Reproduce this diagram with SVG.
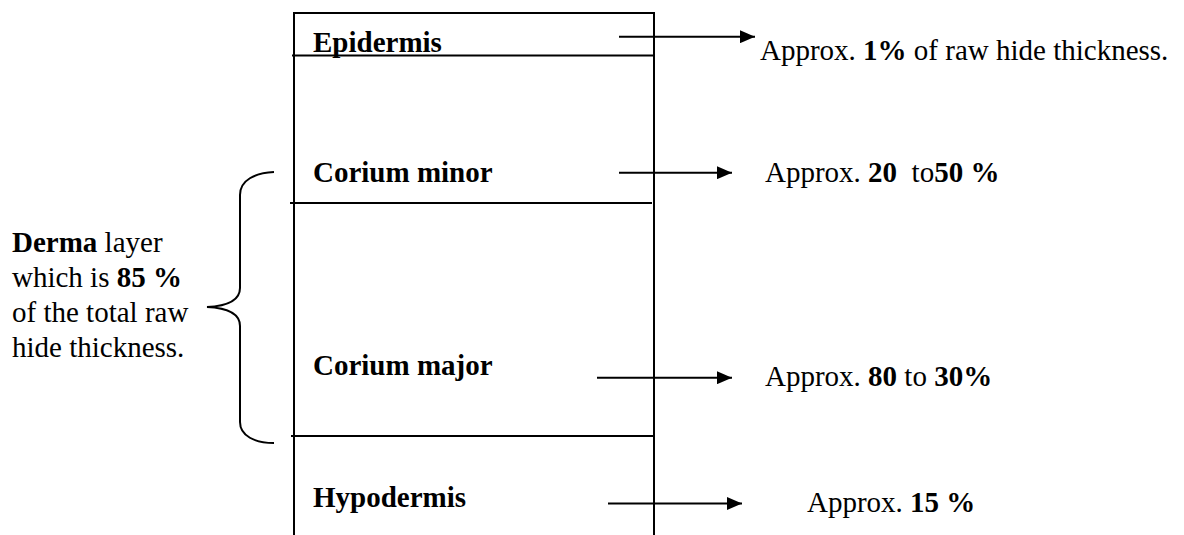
<svg xmlns="http://www.w3.org/2000/svg" width="1184" height="535" viewBox="0 0 1184 535">
<defs>
<marker id="ah" markerWidth="15" markerHeight="13" refX="15" refY="6.5" orient="auto" markerUnits="userSpaceOnUse">
<path d="M0,0 L15,6.5 L0,13 Z" fill="#000"/>
</marker>
<style>
text{font-family:"Liberation Serif","Times New Roman",serif;font-size:29px;fill:#000}
.b{font-weight:bold}
.ln{stroke:#000;stroke-width:2;fill:none}
.ar{stroke:#000;stroke-width:2;fill:none;marker-end:url(#ah)}
</style>
</defs>
<rect width="1184" height="535" fill="#fff"/>
<g id="layers">
<path class="ln" d="M294 535 V13 H654 V535"/>
<line class="ln" x1="292" y1="55.5" x2="654" y2="55.5"/>
<line class="ln" x1="290" y1="203" x2="652" y2="203"/>
<line class="ln" x1="291" y1="436" x2="654" y2="436"/>
</g>
<g id="epidermis"><text class="b" x="313" y="52">Epidermis</text></g>
<g id="corium-minor"><text class="b" x="313" y="182">Corium minor</text></g>
<g id="corium-major"><text class="b" x="313" y="375">Corium major</text></g>
<g id="hypodermis"><text class="b" x="313" y="507">Hypodermis</text></g>
<g id="derma">
<path class="ln" d="M274 172 C255 173 240 180 240 195 L240 288 C240 300 228 306 207 307 C228 308 240 314 240 326 L240 422 C240 436 255 443 274 443"/>
<text x="12" y="252"><tspan class="b">Derma</tspan> layer</text>
<text x="12" y="287">which is <tspan class="b">85 %</tspan></text>
<text x="12" y="322">of the total raw</text>
<text x="12" y="357">hide thickness.</text>
</g>
<g id="values">
<text x="760" y="60">Approx. <tspan class="b">1%</tspan> of raw hide thickness.</text>
<text x="765" y="182">Approx. <tspan class="b">20</tspan> &#160;to<tspan class="b">50 %</tspan></text>
<text x="765" y="386">Approx. <tspan class="b">80</tspan> to <tspan class="b">30%</tspan></text>
<text x="807" y="512">Approx. <tspan class="b">15 %</tspan></text>
</g>
<g id="connectors">
<line class="ar" x1="619" y1="36.7" x2="755" y2="36.7"/>
<line class="ar" x1="619" y1="172.7" x2="732" y2="172.7"/>
<line class="ar" x1="597" y1="377.7" x2="732" y2="377.7"/>
<line class="ar" x1="608" y1="503.5" x2="742" y2="503.5"/>
</g>
</svg>
